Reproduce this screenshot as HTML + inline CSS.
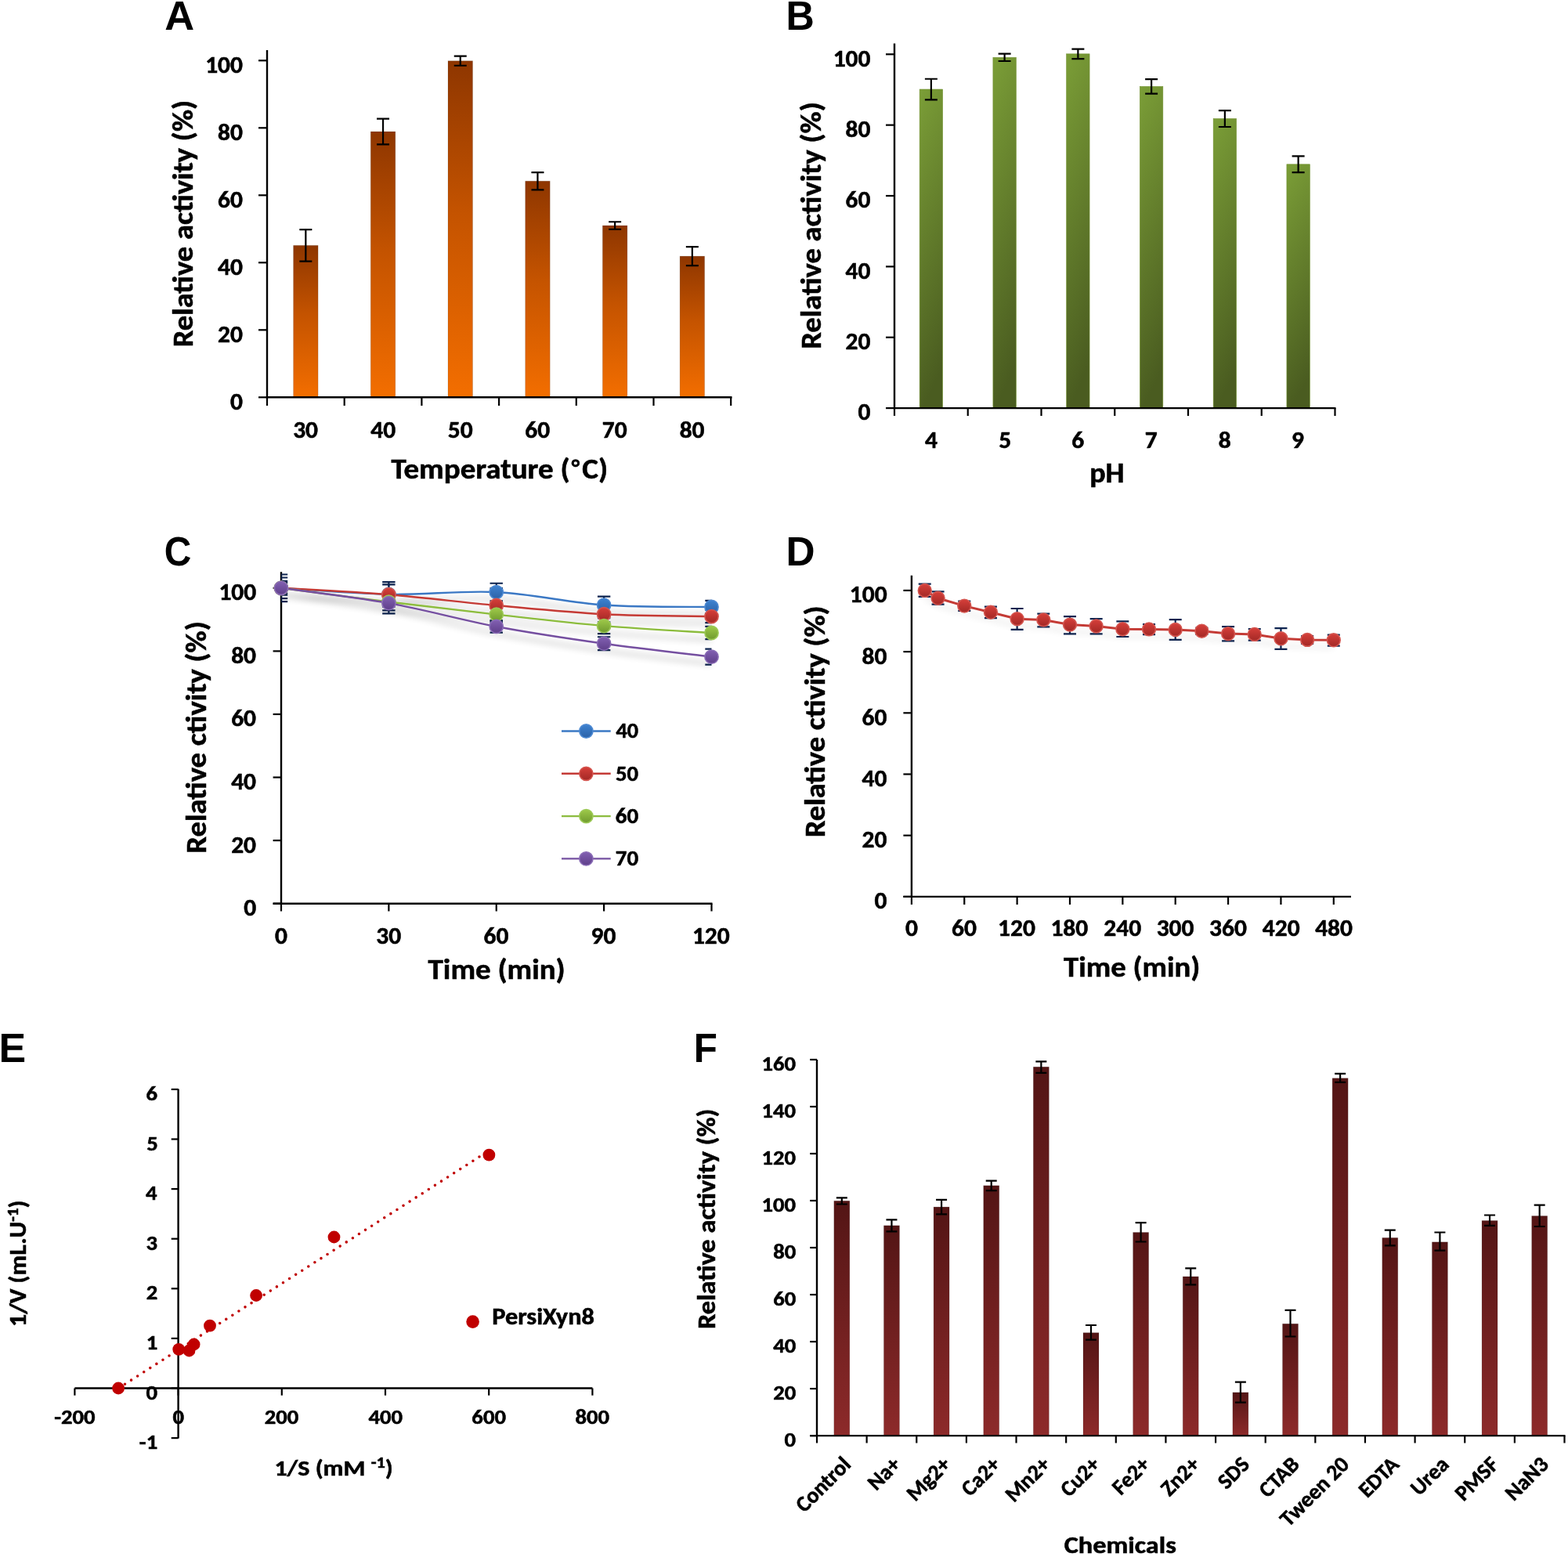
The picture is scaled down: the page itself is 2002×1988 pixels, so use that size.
<!DOCTYPE html>
<html><head><meta charset="utf-8"><title>Figure</title>
<style>html,body{margin:0;padding:0;background:#fff;} svg{display:block;}</style>
</head><body>
<svg width="2002" height="1988" viewBox="0 0 2002 1988">
<defs>
<linearGradient id="gA" x1="0" y1="0" x2="0" y2="1">
  <stop offset="0" stop-color="#8e3600"/><stop offset="0.45" stop-color="#c45300"/><stop offset="1" stop-color="#f36e00"/>
</linearGradient>
<linearGradient id="gB" x1="0" y1="0" x2="0.15" y2="1">
  <stop offset="0" stop-color="#7b9e37"/><stop offset="1" stop-color="#4a5c20"/>
</linearGradient>
<linearGradient id="gF" x1="0" y1="0" x2="0" y2="1">
  <stop offset="0" stop-color="#531515"/><stop offset="1" stop-color="#8d2a2a"/>
</linearGradient>
<linearGradient id="mBlue" x1="0" y1="0" x2="0" y2="1"><stop offset="0" stop-color="#3d82d0"/><stop offset="1" stop-color="#2b62a8"/></linearGradient>
<linearGradient id="mRed" x1="0" y1="0" x2="0" y2="1"><stop offset="0" stop-color="#d63f3a"/><stop offset="1" stop-color="#a32825"/></linearGradient>
<linearGradient id="mGreen" x1="0" y1="0" x2="0" y2="1"><stop offset="0" stop-color="#9fca4a"/><stop offset="1" stop-color="#6f9a2e"/></linearGradient>
<linearGradient id="mPurple" x1="0" y1="0" x2="0" y2="1"><stop offset="0" stop-color="#8260b2"/><stop offset="1" stop-color="#5f3f8a"/></linearGradient>
<clipPath id="clipC"><rect x="359" y="700" width="549.5" height="460"/></clipPath>
<filter id="shadowC" x="-5%" y="-50%" width="110%" height="250%">
  <feGaussianBlur in="SourceAlpha" stdDeviation="4.5"/>
  <feOffset dx="0" dy="9" result="b"/>
  <feComponentTransfer><feFuncA type="linear" slope="0.3"/></feComponentTransfer>
  <feMerge><feMergeNode/><feMergeNode in="SourceGraphic"/></feMerge>
</filter>
<filter id="shadowD" x="-5%" y="-50%" width="110%" height="300%">
  <feGaussianBlur in="SourceAlpha" stdDeviation="4"/>
  <feOffset dx="0" dy="9" result="b"/>
  <feComponentTransfer><feFuncA type="linear" slope="0.12"/></feComponentTransfer>
  <feMerge><feMergeNode/><feMergeNode in="SourceGraphic"/></feMerge>
</filter>
</defs>
<rect width="2002" height="1988" fill="#fff"/>
<text transform="translate(210.17,38.3) scale(1.0190,1)" font-size="51.5" font-family='"Liberation Sans", Arial, sans-serif' font-weight="bold" >A</text>
<rect x="374.6" y="313.37" width="31.5" height="193.93" fill="url(#gA)" stroke="#000" stroke-opacity="0.13" stroke-width="1"/>
<rect x="473.3" y="168.03" width="31.5" height="339.27" fill="url(#gA)" stroke="#000" stroke-opacity="0.13" stroke-width="1"/>
<rect x="572" y="77.73" width="31.5" height="429.57" fill="url(#gA)" stroke="#000" stroke-opacity="0.13" stroke-width="1"/>
<rect x="670.7" y="231.24" width="31.5" height="276.06" fill="url(#gA)" stroke="#000" stroke-opacity="0.13" stroke-width="1"/>
<rect x="769.4" y="288" width="31.5" height="219.3" fill="url(#gA)" stroke="#000" stroke-opacity="0.13" stroke-width="1"/>
<rect x="868.1" y="327.13" width="31.5" height="180.17" fill="url(#gA)" stroke="#000" stroke-opacity="0.13" stroke-width="1"/>
<path d="M390.35,293.16V333.58M382.35,293.16H398.35M382.35,333.58H398.35" stroke="#000" stroke-width="2.2" fill="none"/>
<path d="M489.05,151.69V184.37M481.05,151.69H497.05M481.05,184.37H497.05" stroke="#000" stroke-width="2.2" fill="none"/>
<path d="M587.75,71.71V83.75M579.75,71.71H595.75M579.75,83.75H595.75" stroke="#000" stroke-width="2.2" fill="none"/>
<path d="M686.45,220.06V242.42M678.45,220.06H694.45M678.45,242.42H694.45" stroke="#000" stroke-width="2.2" fill="none"/>
<path d="M785.15,283.27V292.73M777.15,283.27H793.15M777.15,292.73H793.15" stroke="#000" stroke-width="2.2" fill="none"/>
<path d="M883.85,315.09V339.17M875.85,315.09H891.85M875.85,339.17H891.85" stroke="#000" stroke-width="2.2" fill="none"/>
<line x1="341" y1="64" x2="341" y2="508.3" stroke="#000" stroke-width="2.4" />
<line x1="339.8" y1="507.3" x2="934.5" y2="507.3" stroke="#000" stroke-width="2.4" />
<line x1="330" y1="507.3" x2="341" y2="507.3" stroke="#000" stroke-width="2.2" />
<text transform="translate(293.99,523.3) scale(1.0340,1)" font-size="30.4" font-family='"Carlito", "Liberation Sans", sans-serif' font-weight="bold" stroke="#000" stroke-width="0.55" >0</text>
<line x1="330" y1="421.3" x2="341" y2="421.3" stroke="#000" stroke-width="2.2" />
<text transform="translate(277.96,437.3) scale(1.0340,1)" font-size="30.4" font-family='"Carlito", "Liberation Sans", sans-serif' font-weight="bold" stroke="#000" stroke-width="0.55" >20</text>
<line x1="330" y1="335.3" x2="341" y2="335.3" stroke="#000" stroke-width="2.2" />
<text transform="translate(277.96,351.3) scale(1.0340,1)" font-size="30.4" font-family='"Carlito", "Liberation Sans", sans-serif' font-weight="bold" stroke="#000" stroke-width="0.55" >40</text>
<line x1="330" y1="249.3" x2="341" y2="249.3" stroke="#000" stroke-width="2.2" />
<text transform="translate(277.96,265.3) scale(1.0340,1)" font-size="30.4" font-family='"Carlito", "Liberation Sans", sans-serif' font-weight="bold" stroke="#000" stroke-width="0.55" >60</text>
<line x1="330" y1="163.3" x2="341" y2="163.3" stroke="#000" stroke-width="2.2" />
<text transform="translate(277.96,179.3) scale(1.0340,1)" font-size="30.4" font-family='"Carlito", "Liberation Sans", sans-serif' font-weight="bold" stroke="#000" stroke-width="0.55" >80</text>
<line x1="330" y1="77.3" x2="341" y2="77.3" stroke="#000" stroke-width="2.2" />
<text transform="translate(262.19,93.3) scale(1.0340,1)" font-size="30.4" font-family='"Carlito", "Liberation Sans", sans-serif' font-weight="bold" stroke="#000" stroke-width="0.55" >100</text>
<line x1="341" y1="507.3" x2="341" y2="518" stroke="#000" stroke-width="2.2" />
<line x1="439.7" y1="507.3" x2="439.7" y2="518" stroke="#000" stroke-width="2.2" />
<line x1="538.4" y1="507.3" x2="538.4" y2="518" stroke="#000" stroke-width="2.2" />
<line x1="637.1" y1="507.3" x2="637.1" y2="518" stroke="#000" stroke-width="2.2" />
<line x1="735.8" y1="507.3" x2="735.8" y2="518" stroke="#000" stroke-width="2.2" />
<line x1="834.5" y1="507.3" x2="834.5" y2="518" stroke="#000" stroke-width="2.2" />
<line x1="933.2" y1="507.3" x2="933.2" y2="518" stroke="#000" stroke-width="2.2" />
<text transform="translate(374.19,559) scale(1.0340,1)" font-size="30.4" font-family='"Carlito", "Liberation Sans", sans-serif' font-weight="bold" stroke="#000" stroke-width="0.55" >30</text>
<text transform="translate(473.28,559) scale(1.0340,1)" font-size="30.4" font-family='"Carlito", "Liberation Sans", sans-serif' font-weight="bold" stroke="#000" stroke-width="0.55" >40</text>
<text transform="translate(571.72,559) scale(1.0340,1)" font-size="30.4" font-family='"Carlito", "Liberation Sans", sans-serif' font-weight="bold" stroke="#000" stroke-width="0.55" >50</text>
<text transform="translate(670.29,559) scale(1.0340,1)" font-size="30.4" font-family='"Carlito", "Liberation Sans", sans-serif' font-weight="bold" stroke="#000" stroke-width="0.55" >60</text>
<text transform="translate(768.86,559) scale(1.0340,1)" font-size="30.4" font-family='"Carlito", "Liberation Sans", sans-serif' font-weight="bold" stroke="#000" stroke-width="0.55" >70</text>
<text transform="translate(867.69,559) scale(1.0340,1)" font-size="30.4" font-family='"Carlito", "Liberation Sans", sans-serif' font-weight="bold" stroke="#000" stroke-width="0.55" >80</text>
<text transform="translate(499.5,610.8) scale(1.0740,1)" font-size="36.3" font-family='"Carlito", "Liberation Sans", sans-serif' font-weight="bold" stroke="#000" stroke-width="0.55" >Temperature (<tspan font-size="28" dx="2" dy="-4.6">°</tspan><tspan dx="3" dy="4.6">C)</tspan></text>
<text transform="translate(246.1,443.37) rotate(-90) scale(1.0659,1)" font-size="36.2" font-family='"Carlito", "Liberation Sans", sans-serif' font-weight="bold" stroke="#000" stroke-width="0.55" >Relative activity (%)</text>
<text transform="translate(1003.58,38.3) scale(0.9760,1)" font-size="51.5" font-family='"Liberation Sans", Arial, sans-serif' font-weight="bold" >B</text>
<rect x="1174.17" y="114.03" width="29.4" height="407.07" fill="url(#gB)" stroke="#6f8f2c" stroke-width="0.6"/>
<rect x="1267.92" y="73.37" width="29.4" height="447.73" fill="url(#gB)" stroke="#6f8f2c" stroke-width="0.6"/>
<rect x="1361.67" y="68.85" width="29.4" height="452.25" fill="url(#gB)" stroke="#6f8f2c" stroke-width="0.6"/>
<rect x="1455.42" y="110.41" width="29.4" height="410.69" fill="url(#gB)" stroke="#6f8f2c" stroke-width="0.6"/>
<rect x="1549.17" y="151.53" width="29.4" height="369.57" fill="url(#gB)" stroke="#6f8f2c" stroke-width="0.6"/>
<rect x="1642.92" y="209.81" width="29.4" height="311.29" fill="url(#gB)" stroke="#6f8f2c" stroke-width="0.6"/>
<path d="M1188.88,100.75V127.31M1180.88,100.75H1196.88M1180.88,127.31H1196.88" stroke="#000" stroke-width="2.2" fill="none"/>
<path d="M1282.62,68.71V78.02M1274.62,68.71H1290.62M1274.62,78.02H1290.62" stroke="#000" stroke-width="2.2" fill="none"/>
<path d="M1376.38,62.66V75.04M1368.38,62.66H1384.38M1368.38,75.04H1384.38" stroke="#000" stroke-width="2.2" fill="none"/>
<path d="M1470.12,101.2V119.63M1462.12,101.2H1478.12M1462.12,119.63H1478.12" stroke="#000" stroke-width="2.2" fill="none"/>
<path d="M1563.88,141.05V162.01M1555.88,141.05H1571.88M1555.88,162.01H1571.88" stroke="#000" stroke-width="2.2" fill="none"/>
<path d="M1657.62,199.46V220.16M1649.62,199.46H1665.62M1649.62,220.16H1665.62" stroke="#000" stroke-width="2.2" fill="none"/>
<line x1="1142" y1="55.5" x2="1142" y2="522.1" stroke="#000" stroke-width="2.4" />
<line x1="1140.8" y1="521.1" x2="1705.5" y2="521.1" stroke="#000" stroke-width="2.4" />
<line x1="1131" y1="521.1" x2="1142" y2="521.1" stroke="#000" stroke-width="2.2" />
<text transform="translate(1095.49,536.3) scale(1.0340,1)" font-size="30.4" font-family='"Carlito", "Liberation Sans", sans-serif' font-weight="bold" stroke="#000" stroke-width="0.55" >0</text>
<line x1="1131" y1="430.74" x2="1142" y2="430.74" stroke="#000" stroke-width="2.2" />
<text transform="translate(1079.46,445.94) scale(1.0340,1)" font-size="30.4" font-family='"Carlito", "Liberation Sans", sans-serif' font-weight="bold" stroke="#000" stroke-width="0.55" >20</text>
<line x1="1131" y1="340.38" x2="1142" y2="340.38" stroke="#000" stroke-width="2.2" />
<text transform="translate(1079.46,355.58) scale(1.0340,1)" font-size="30.4" font-family='"Carlito", "Liberation Sans", sans-serif' font-weight="bold" stroke="#000" stroke-width="0.55" >40</text>
<line x1="1131" y1="250.02" x2="1142" y2="250.02" stroke="#000" stroke-width="2.2" />
<text transform="translate(1079.46,265.22) scale(1.0340,1)" font-size="30.4" font-family='"Carlito", "Liberation Sans", sans-serif' font-weight="bold" stroke="#000" stroke-width="0.55" >60</text>
<line x1="1131" y1="159.66" x2="1142" y2="159.66" stroke="#000" stroke-width="2.2" />
<text transform="translate(1079.46,174.86) scale(1.0340,1)" font-size="30.4" font-family='"Carlito", "Liberation Sans", sans-serif' font-weight="bold" stroke="#000" stroke-width="0.55" >80</text>
<line x1="1131" y1="69.3" x2="1142" y2="69.3" stroke="#000" stroke-width="2.2" />
<text transform="translate(1063.69,84.5) scale(1.0340,1)" font-size="30.4" font-family='"Carlito", "Liberation Sans", sans-serif' font-weight="bold" stroke="#000" stroke-width="0.55" >100</text>
<line x1="1142" y1="521.1" x2="1142" y2="531" stroke="#000" stroke-width="2.2" />
<line x1="1235.75" y1="521.1" x2="1235.75" y2="531" stroke="#000" stroke-width="2.2" />
<line x1="1329.5" y1="521.1" x2="1329.5" y2="531" stroke="#000" stroke-width="2.2" />
<line x1="1423.25" y1="521.1" x2="1423.25" y2="531" stroke="#000" stroke-width="2.2" />
<line x1="1517" y1="521.1" x2="1517" y2="531" stroke="#000" stroke-width="2.2" />
<line x1="1610.75" y1="521.1" x2="1610.75" y2="531" stroke="#000" stroke-width="2.2" />
<line x1="1704.5" y1="521.1" x2="1704.5" y2="531" stroke="#000" stroke-width="2.2" />
<text transform="translate(1180.99,571.5) scale(1.0340,1)" font-size="30.4" font-family='"Carlito", "Liberation Sans", sans-serif' font-weight="bold" stroke="#000" stroke-width="0.55" >4</text>
<text transform="translate(1275.13,571.5) scale(1.0340,1)" font-size="30.4" font-family='"Carlito", "Liberation Sans", sans-serif' font-weight="bold" stroke="#000" stroke-width="0.55" >5</text>
<text transform="translate(1368.23,571.5) scale(1.0340,1)" font-size="30.4" font-family='"Carlito", "Liberation Sans", sans-serif' font-weight="bold" stroke="#000" stroke-width="0.55" >6</text>
<text transform="translate(1461.85,571.5) scale(1.0340,1)" font-size="30.4" font-family='"Carlito", "Liberation Sans", sans-serif' font-weight="bold" stroke="#000" stroke-width="0.55" >7</text>
<text transform="translate(1555.86,571.5) scale(1.0340,1)" font-size="30.4" font-family='"Carlito", "Liberation Sans", sans-serif' font-weight="bold" stroke="#000" stroke-width="0.55" >8</text>
<text transform="translate(1649.09,571.5) scale(1.0340,1)" font-size="30.4" font-family='"Carlito", "Liberation Sans", sans-serif' font-weight="bold" stroke="#000" stroke-width="0.55" >9</text>
<text transform="translate(1391.14,616.2) scale(1.0318,1)" font-size="36.8" font-family='"Carlito", "Liberation Sans", sans-serif' font-weight="bold" stroke="#000" stroke-width="0.55" >pH</text>
<text transform="translate(1047.5,445.85) rotate(-90) scale(1.0548,1)" font-size="36.6" font-family='"Carlito", "Liberation Sans", sans-serif' font-weight="bold" stroke="#000" stroke-width="0.55" >Relative activity (%)</text>
<text transform="translate(209.64,721.5) scale(0.9304,1)" font-size="51.5" font-family='"Liberation Sans", Arial, sans-serif' font-weight="bold" >C</text>
<line x1="359" y1="730.2" x2="359" y2="1154.7" stroke="#000" stroke-width="2.4" />
<line x1="348.6" y1="1153.7" x2="909.5" y2="1153.7" stroke="#000" stroke-width="2.4" />
<line x1="348.6" y1="1153.7" x2="359" y2="1153.7" stroke="#000" stroke-width="2.2" />
<text transform="translate(311.19,1169.2) scale(1.0340,1)" font-size="30.4" font-family='"Carlito", "Liberation Sans", sans-serif' font-weight="bold" stroke="#000" stroke-width="0.55" >0</text>
<line x1="348.6" y1="1073.12" x2="359" y2="1073.12" stroke="#000" stroke-width="2.2" />
<text transform="translate(295.16,1088.62) scale(1.0340,1)" font-size="30.4" font-family='"Carlito", "Liberation Sans", sans-serif' font-weight="bold" stroke="#000" stroke-width="0.55" >20</text>
<line x1="348.6" y1="992.54" x2="359" y2="992.54" stroke="#000" stroke-width="2.2" />
<text transform="translate(295.16,1008.04) scale(1.0340,1)" font-size="30.4" font-family='"Carlito", "Liberation Sans", sans-serif' font-weight="bold" stroke="#000" stroke-width="0.55" >40</text>
<line x1="348.6" y1="911.96" x2="359" y2="911.96" stroke="#000" stroke-width="2.2" />
<text transform="translate(295.16,927.46) scale(1.0340,1)" font-size="30.4" font-family='"Carlito", "Liberation Sans", sans-serif' font-weight="bold" stroke="#000" stroke-width="0.55" >60</text>
<line x1="348.6" y1="831.38" x2="359" y2="831.38" stroke="#000" stroke-width="2.2" />
<text transform="translate(295.16,846.88) scale(1.0340,1)" font-size="30.4" font-family='"Carlito", "Liberation Sans", sans-serif' font-weight="bold" stroke="#000" stroke-width="0.55" >80</text>
<line x1="348.6" y1="750.8" x2="359" y2="750.8" stroke="#000" stroke-width="2.2" />
<text transform="translate(279.39,766.3) scale(1.0340,1)" font-size="30.4" font-family='"Carlito", "Liberation Sans", sans-serif' font-weight="bold" stroke="#000" stroke-width="0.55" >100</text>
<line x1="359" y1="1153.7" x2="359" y2="1163.5" stroke="#000" stroke-width="2.2" />
<text transform="translate(351.12,1204.5) scale(1.0340,1)" font-size="30.4" font-family='"Carlito", "Liberation Sans", sans-serif' font-weight="bold" stroke="#000" stroke-width="0.55" >0</text>
<line x1="496.38" y1="1153.7" x2="496.38" y2="1163.5" stroke="#000" stroke-width="2.2" />
<text transform="translate(480.22,1204.5) scale(1.0340,1)" font-size="30.4" font-family='"Carlito", "Liberation Sans", sans-serif' font-weight="bold" stroke="#000" stroke-width="0.55" >30</text>
<line x1="633.75" y1="1153.7" x2="633.75" y2="1163.5" stroke="#000" stroke-width="2.2" />
<text transform="translate(617.59,1204.5) scale(1.0340,1)" font-size="30.4" font-family='"Carlito", "Liberation Sans", sans-serif' font-weight="bold" stroke="#000" stroke-width="0.55" >60</text>
<line x1="771.12" y1="1153.7" x2="771.12" y2="1163.5" stroke="#000" stroke-width="2.2" />
<text transform="translate(754.58,1204.5) scale(1.0340,1)" font-size="30.4" font-family='"Carlito", "Liberation Sans", sans-serif' font-weight="bold" stroke="#000" stroke-width="0.55" >90</text>
<line x1="908.5" y1="1153.7" x2="908.5" y2="1163.5" stroke="#000" stroke-width="2.2" />
<text transform="translate(883.94,1204.5) scale(1.0340,1)" font-size="30.4" font-family='"Carlito", "Liberation Sans", sans-serif' font-weight="bold" stroke="#000" stroke-width="0.55" >120</text>
<text transform="translate(546.6,1249.7) scale(1.0802,1)" font-size="36" font-family='"Carlito", "Liberation Sans", sans-serif' font-weight="bold" stroke="#000" stroke-width="0.55" >Time (min)</text>
<text transform="translate(263.2,1089.66) rotate(-90) scale(1.0601,1)" font-size="36.4" font-family='"Carlito", "Liberation Sans", sans-serif' font-weight="bold" stroke="#000" stroke-width="0.55" >Relative ctivity (%)</text>
<path d="M359,733.48V768.12M350.8,733.48H367.2M350.8,768.12H367.2" stroke="#0e2450" stroke-width="2.2" fill="none" clip-path="url(#clipC)"/>
<path d="M496.38,743.14V774.57M488.18,743.14H504.57M488.18,774.57H504.57" stroke="#0e2450" stroke-width="2.2" fill="none" clip-path="url(#clipC)"/>
<path d="M633.75,744.76V767.32M625.55,744.76H641.95M625.55,767.32H641.95" stroke="#0e2450" stroke-width="2.2" fill="none" clip-path="url(#clipC)"/>
<path d="M771.12,761.68V783.43M762.92,761.68H779.33M762.92,783.43H779.33" stroke="#0e2450" stroke-width="2.2" fill="none" clip-path="url(#clipC)"/>
<path d="M908.5,766.92V783.03M900.3,766.92H916.7M900.3,783.03H916.7" stroke="#0e2450" stroke-width="2.2" fill="none" clip-path="url(#clipC)"/>
<path d="M359,737.5V764.1M350.8,737.5H367.2M350.8,764.1H367.2" stroke="#0e2450" stroke-width="2.2" fill="none" clip-path="url(#clipC)"/>
<path d="M496.38,746.37V772.15M488.18,746.37H504.57M488.18,772.15H504.57" stroke="#0e2450" stroke-width="2.2" fill="none" clip-path="url(#clipC)"/>
<path d="M633.75,751.2V794.72M625.55,751.2H641.95M625.55,794.72H641.95" stroke="#0e2450" stroke-width="2.2" fill="none" clip-path="url(#clipC)"/>
<path d="M771.12,774.17V794.31M762.92,774.17H779.33M762.92,794.31H779.33" stroke="#0e2450" stroke-width="2.2" fill="none" clip-path="url(#clipC)"/>
<path d="M908.5,779V795.12M900.3,779H916.7M900.3,795.12H916.7" stroke="#0e2450" stroke-width="2.2" fill="none" clip-path="url(#clipC)"/>
<path d="M359,741.94V759.66M350.8,741.94H367.2M350.8,759.66H367.2" stroke="#0e2450" stroke-width="2.2" fill="none" clip-path="url(#clipC)"/>
<path d="M496.38,757.65V779.41M488.18,757.65H504.57M488.18,779.41H504.57" stroke="#0e2450" stroke-width="2.2" fill="none" clip-path="url(#clipC)"/>
<path d="M633.75,776.59V792.7M625.55,776.59H641.95M625.55,792.7H641.95" stroke="#0e2450" stroke-width="2.2" fill="none" clip-path="url(#clipC)"/>
<path d="M771.12,789.08V809.22M762.92,789.08H779.33M762.92,809.22H779.33" stroke="#0e2450" stroke-width="2.2" fill="none" clip-path="url(#clipC)"/>
<path d="M908.5,799.95V816.07M900.3,799.95H916.7M900.3,816.07H916.7" stroke="#0e2450" stroke-width="2.2" fill="none" clip-path="url(#clipC)"/>
<path d="M359,743.95V757.65M350.8,743.95H367.2M350.8,757.65H367.2" stroke="#0e2450" stroke-width="2.2" fill="none" clip-path="url(#clipC)"/>
<path d="M496.38,756.84V783.43M488.18,756.84H504.57M488.18,783.43H504.57" stroke="#0e2450" stroke-width="2.2" fill="none" clip-path="url(#clipC)"/>
<path d="M633.75,792.3V807.61M625.55,792.3H641.95M625.55,807.61H641.95" stroke="#0e2450" stroke-width="2.2" fill="none" clip-path="url(#clipC)"/>
<path d="M771.12,813.25V830.17M762.92,813.25H779.33M762.92,830.17H779.33" stroke="#0e2450" stroke-width="2.2" fill="none" clip-path="url(#clipC)"/>
<path d="M908.5,828.56V848.7M900.3,828.56H916.7M900.3,848.7H916.7" stroke="#0e2450" stroke-width="2.2" fill="none" clip-path="url(#clipC)"/>
<g filter="url(#shadowC)">
<path d="M359,750.8C381.9,752.14 450.58,757.99 496.38,758.86C542.17,759.73 587.96,753.75 633.75,756.04C679.54,758.32 725.33,769.4 771.12,772.56C816.92,775.71 885.6,774.57 908.5,774.97" fill="none" stroke="#3a78c4" stroke-width="2.4"/>
<path d="M359,750.8C381.9,752.21 450.58,755.57 496.38,759.26C542.17,762.95 587.96,768.8 633.75,772.96C679.54,777.12 725.33,781.89 771.12,784.24C816.92,786.59 885.6,786.59 908.5,787.06" fill="none" stroke="#c43a36" stroke-width="2.4"/>
<path d="M359,750.8C381.9,753.75 450.58,762.89 496.38,768.53C542.17,774.17 587.96,779.54 633.75,784.64C679.54,789.75 725.33,795.25 771.12,799.15C816.92,803.04 885.6,806.53 908.5,808.01" fill="none" stroke="#8cbc3e" stroke-width="2.4"/>
<path d="M359,750.8C381.9,754.02 450.58,761.95 496.38,770.14C542.17,778.33 587.96,791.36 633.75,799.95C679.54,808.55 725.33,815.26 771.12,821.71C816.92,828.16 885.6,835.81 908.5,838.63" fill="none" stroke="#7550a0" stroke-width="2.4"/>
</g>
<circle cx="359" cy="750.8" r="8.6" fill="url(#mBlue)" stroke="#4d89d2" stroke-width="1.6"/>
<circle cx="496.38" cy="758.86" r="8.6" fill="url(#mBlue)" stroke="#4d89d2" stroke-width="1.6"/>
<circle cx="633.75" cy="756.04" r="8.6" fill="url(#mBlue)" stroke="#4d89d2" stroke-width="1.6"/>
<circle cx="771.12" cy="772.56" r="8.6" fill="url(#mBlue)" stroke="#4d89d2" stroke-width="1.6"/>
<circle cx="908.5" cy="774.97" r="8.6" fill="url(#mBlue)" stroke="#4d89d2" stroke-width="1.6"/>
<circle cx="359" cy="750.8" r="8.6" fill="url(#mRed)" stroke="#d4554f" stroke-width="1.6"/>
<circle cx="496.38" cy="759.26" r="8.6" fill="url(#mRed)" stroke="#d4554f" stroke-width="1.6"/>
<circle cx="633.75" cy="772.96" r="8.6" fill="url(#mRed)" stroke="#d4554f" stroke-width="1.6"/>
<circle cx="771.12" cy="784.24" r="8.6" fill="url(#mRed)" stroke="#d4554f" stroke-width="1.6"/>
<circle cx="908.5" cy="787.06" r="8.6" fill="url(#mRed)" stroke="#d4554f" stroke-width="1.6"/>
<circle cx="359" cy="750.8" r="8.6" fill="url(#mGreen)" stroke="#9cc956" stroke-width="1.6"/>
<circle cx="496.38" cy="768.53" r="8.6" fill="url(#mGreen)" stroke="#9cc956" stroke-width="1.6"/>
<circle cx="633.75" cy="784.64" r="8.6" fill="url(#mGreen)" stroke="#9cc956" stroke-width="1.6"/>
<circle cx="771.12" cy="799.15" r="8.6" fill="url(#mGreen)" stroke="#9cc956" stroke-width="1.6"/>
<circle cx="908.5" cy="808.01" r="8.6" fill="url(#mGreen)" stroke="#9cc956" stroke-width="1.6"/>
<circle cx="359" cy="750.8" r="8.6" fill="url(#mPurple)" stroke="#8a6cb6" stroke-width="1.6"/>
<circle cx="496.38" cy="770.14" r="8.6" fill="url(#mPurple)" stroke="#8a6cb6" stroke-width="1.6"/>
<circle cx="633.75" cy="799.95" r="8.6" fill="url(#mPurple)" stroke="#8a6cb6" stroke-width="1.6"/>
<circle cx="771.12" cy="821.71" r="8.6" fill="url(#mPurple)" stroke="#8a6cb6" stroke-width="1.6"/>
<circle cx="908.5" cy="838.63" r="8.6" fill="url(#mPurple)" stroke="#8a6cb6" stroke-width="1.6"/>
<line x1="717" y1="933.5" x2="779.7" y2="933.5" stroke="#3a78c4" stroke-width="2.4" />
<circle cx="748.4" cy="933.5" r="8.6" fill="url(#mBlue)" stroke="#4d89d2" stroke-width="1.6"/>
<text transform="translate(786.6,942.2) scale(1.0312,1)" font-size="27.3" font-family='"Carlito", "Liberation Sans", sans-serif' font-weight="bold" stroke="#000" stroke-width="0.55" >40</text>
<line x1="717" y1="987.8" x2="779.7" y2="987.8" stroke="#c43a36" stroke-width="2.4" />
<circle cx="748.4" cy="987.8" r="8.6" fill="url(#mRed)" stroke="#d4554f" stroke-width="1.6"/>
<text transform="translate(786.07,996.5) scale(1.0505,1)" font-size="27.3" font-family='"Carlito", "Liberation Sans", sans-serif' font-weight="bold" stroke="#000" stroke-width="0.55" >50</text>
<line x1="717" y1="1042.1" x2="779.7" y2="1042.1" stroke="#8cbc3e" stroke-width="2.4" />
<circle cx="748.4" cy="1042.1" r="8.6" fill="url(#mGreen)" stroke="#9cc956" stroke-width="1.6"/>
<text transform="translate(785.8,1050.8) scale(1.0604,1)" font-size="27.3" font-family='"Carlito", "Liberation Sans", sans-serif' font-weight="bold" stroke="#000" stroke-width="0.55" >60</text>
<line x1="717" y1="1096.4" x2="779.7" y2="1096.4" stroke="#7550a0" stroke-width="2.4" />
<circle cx="748.4" cy="1096.4" r="8.6" fill="url(#mPurple)" stroke="#8a6cb6" stroke-width="1.6"/>
<text transform="translate(785.8,1105.1) scale(1.0604,1)" font-size="27.3" font-family='"Carlito", "Liberation Sans", sans-serif' font-weight="bold" stroke="#000" stroke-width="0.55" >70</text>
<text transform="translate(1003.41,721.5) scale(0.9968,1)" font-size="51.5" font-family='"Liberation Sans", Arial, sans-serif' font-weight="bold" >D</text>
<line x1="1163.9" y1="734.7" x2="1163.9" y2="1145.9" stroke="#000" stroke-width="2.4" />
<line x1="1153.4" y1="1144.9" x2="1725" y2="1144.9" stroke="#000" stroke-width="2.4" />
<line x1="1153.4" y1="1144.9" x2="1163.9" y2="1144.9" stroke="#000" stroke-width="2.2" />
<text transform="translate(1116.59,1160.4) scale(1.0340,1)" font-size="30.4" font-family='"Carlito", "Liberation Sans", sans-serif' font-weight="bold" stroke="#000" stroke-width="0.55" >0</text>
<line x1="1153.4" y1="1066.7" x2="1163.9" y2="1066.7" stroke="#000" stroke-width="2.2" />
<text transform="translate(1100.56,1082.2) scale(1.0340,1)" font-size="30.4" font-family='"Carlito", "Liberation Sans", sans-serif' font-weight="bold" stroke="#000" stroke-width="0.55" >20</text>
<line x1="1153.4" y1="988.5" x2="1163.9" y2="988.5" stroke="#000" stroke-width="2.2" />
<text transform="translate(1100.56,1004) scale(1.0340,1)" font-size="30.4" font-family='"Carlito", "Liberation Sans", sans-serif' font-weight="bold" stroke="#000" stroke-width="0.55" >40</text>
<line x1="1153.4" y1="910.3" x2="1163.9" y2="910.3" stroke="#000" stroke-width="2.2" />
<text transform="translate(1100.56,925.8) scale(1.0340,1)" font-size="30.4" font-family='"Carlito", "Liberation Sans", sans-serif' font-weight="bold" stroke="#000" stroke-width="0.55" >60</text>
<line x1="1153.4" y1="832.1" x2="1163.9" y2="832.1" stroke="#000" stroke-width="2.2" />
<text transform="translate(1100.56,847.6) scale(1.0340,1)" font-size="30.4" font-family='"Carlito", "Liberation Sans", sans-serif' font-weight="bold" stroke="#000" stroke-width="0.55" >80</text>
<line x1="1153.4" y1="753.9" x2="1163.9" y2="753.9" stroke="#000" stroke-width="2.2" />
<text transform="translate(1084.79,769.4) scale(1.0340,1)" font-size="30.4" font-family='"Carlito", "Liberation Sans", sans-serif' font-weight="bold" stroke="#000" stroke-width="0.55" >100</text>
<line x1="1163.9" y1="1144.9" x2="1163.9" y2="1155" stroke="#000" stroke-width="2.2" />
<text transform="translate(1156.02,1195.3) scale(1.0340,1)" font-size="30.4" font-family='"Carlito", "Liberation Sans", sans-serif' font-weight="bold" stroke="#000" stroke-width="0.55" >0</text>
<line x1="1231.26" y1="1144.9" x2="1231.26" y2="1155" stroke="#000" stroke-width="2.2" />
<text transform="translate(1215.11,1195.3) scale(1.0340,1)" font-size="30.4" font-family='"Carlito", "Liberation Sans", sans-serif' font-weight="bold" stroke="#000" stroke-width="0.55" >60</text>
<line x1="1298.62" y1="1144.9" x2="1298.62" y2="1155" stroke="#000" stroke-width="2.2" />
<text transform="translate(1274.07,1195.3) scale(1.0340,1)" font-size="30.4" font-family='"Carlito", "Liberation Sans", sans-serif' font-weight="bold" stroke="#000" stroke-width="0.55" >120</text>
<line x1="1365.99" y1="1144.9" x2="1365.99" y2="1155" stroke="#000" stroke-width="2.2" />
<text transform="translate(1341.43,1195.3) scale(1.0340,1)" font-size="30.4" font-family='"Carlito", "Liberation Sans", sans-serif' font-weight="bold" stroke="#000" stroke-width="0.55" >180</text>
<line x1="1433.35" y1="1144.9" x2="1433.35" y2="1155" stroke="#000" stroke-width="2.2" />
<text transform="translate(1409.31,1195.3) scale(1.0340,1)" font-size="30.4" font-family='"Carlito", "Liberation Sans", sans-serif' font-weight="bold" stroke="#000" stroke-width="0.55" >240</text>
<line x1="1500.71" y1="1144.9" x2="1500.71" y2="1155" stroke="#000" stroke-width="2.2" />
<text transform="translate(1476.67,1195.3) scale(1.0340,1)" font-size="30.4" font-family='"Carlito", "Liberation Sans", sans-serif' font-weight="bold" stroke="#000" stroke-width="0.55" >300</text>
<line x1="1568.08" y1="1144.9" x2="1568.08" y2="1155" stroke="#000" stroke-width="2.2" />
<text transform="translate(1544.03,1195.3) scale(1.0340,1)" font-size="30.4" font-family='"Carlito", "Liberation Sans", sans-serif' font-weight="bold" stroke="#000" stroke-width="0.55" >360</text>
<line x1="1635.44" y1="1144.9" x2="1635.44" y2="1155" stroke="#000" stroke-width="2.2" />
<text transform="translate(1611.78,1195.3) scale(1.0340,1)" font-size="30.4" font-family='"Carlito", "Liberation Sans", sans-serif' font-weight="bold" stroke="#000" stroke-width="0.55" >420</text>
<line x1="1702.8" y1="1144.9" x2="1702.8" y2="1155" stroke="#000" stroke-width="2.2" />
<text transform="translate(1679.15,1195.3) scale(1.0340,1)" font-size="30.4" font-family='"Carlito", "Liberation Sans", sans-serif' font-weight="bold" stroke="#000" stroke-width="0.55" >480</text>
<text transform="translate(1358.1,1246.7) scale(1.0752,1)" font-size="36" font-family='"Carlito", "Liberation Sans", sans-serif' font-weight="bold" stroke="#000" stroke-width="0.55" >Time (min)</text>
<text transform="translate(1052.7,1069.36) rotate(-90) scale(1.0648,1)" font-size="36.2" font-family='"Carlito", "Liberation Sans", sans-serif' font-weight="bold" stroke="#000" stroke-width="0.55" >Relative ctivity (%)</text>
<path d="M1180.74,745.6V761.9M1172.74,745.6H1188.74M1172.74,761.9H1188.74" stroke="#0e2450" stroke-width="2.2" fill="none"/>
<path d="M1197.58,755.4V771.7M1189.58,755.4H1205.58M1189.58,771.7H1205.58" stroke="#0e2450" stroke-width="2.2" fill="none"/>
<path d="M1231.26,767.7V779.8M1223.26,767.7H1239.26M1223.26,779.8H1239.26" stroke="#0e2450" stroke-width="2.2" fill="none"/>
<path d="M1264.94,774.7V789.1M1256.94,774.7H1272.94M1256.94,789.1H1272.94" stroke="#0e2450" stroke-width="2.2" fill="none"/>
<path d="M1298.62,777V803.9M1290.62,777H1306.62M1290.62,803.9H1306.62" stroke="#0e2450" stroke-width="2.2" fill="none"/>
<path d="M1332.31,783.7V800.4M1324.31,783.7H1340.31M1324.31,800.4H1340.31" stroke="#0e2450" stroke-width="2.2" fill="none"/>
<path d="M1365.99,787.1V809.4M1357.99,787.1H1373.99M1357.99,809.4H1373.99" stroke="#0e2450" stroke-width="2.2" fill="none"/>
<path d="M1399.67,790.2V809.4M1391.67,790.2H1407.67M1391.67,809.4H1407.67" stroke="#0e2450" stroke-width="2.2" fill="none"/>
<path d="M1433.35,793.3V813M1425.35,793.3H1441.35M1425.35,813H1441.35" stroke="#0e2450" stroke-width="2.2" fill="none"/>
<path d="M1467.03,797.1V810.2M1459.03,797.1H1475.03M1459.03,810.2H1475.03" stroke="#0e2450" stroke-width="2.2" fill="none"/>
<path d="M1500.71,791.2V816.9M1492.71,791.2H1508.71M1492.71,816.9H1508.71" stroke="#0e2450" stroke-width="2.2" fill="none"/>
<path d="M1534.39,801.5V809.9M1526.39,801.5H1542.39M1526.39,809.9H1542.39" stroke="#0e2450" stroke-width="2.2" fill="none"/>
<path d="M1568.08,800.1V818.4M1560.08,800.1H1576.08M1560.08,818.4H1576.08" stroke="#0e2450" stroke-width="2.2" fill="none"/>
<path d="M1601.76,803.2V817.6M1593.76,803.2H1609.76M1593.76,817.6H1609.76" stroke="#0e2450" stroke-width="2.2" fill="none"/>
<path d="M1635.44,802.1V828.8M1627.44,802.1H1643.44M1627.44,828.8H1643.44" stroke="#0e2450" stroke-width="2.2" fill="none"/>
<path d="M1669.12,812V821.8M1661.12,812H1677.12M1661.12,821.8H1677.12" stroke="#0e2450" stroke-width="2.2" fill="none"/>
<path d="M1702.8,810.7V824.6M1694.8,810.7H1710.8M1694.8,824.6H1710.8" stroke="#0e2450" stroke-width="2.2" fill="none"/>
<path d="M1180.74,753.9 L1197.58,763.8 L1231.26,773.6 L1264.94,781.8 L1298.62,790.2 L1332.31,791.4 L1365.99,797.6 L1399.67,799.5 L1433.35,803.2 L1467.03,803.4 L1500.71,804 L1534.39,805.7 L1568.08,809.1 L1601.76,809.9 L1635.44,815.3 L1669.12,816.9 L1702.8,817.3" fill="none" stroke="#c43a36" stroke-width="3" filter="url(#shadowD)"/>
<circle cx="1180.74" cy="753.9" r="8.4" fill="url(#mRed)" stroke="#d4554f" stroke-width="1.6"/>
<circle cx="1197.58" cy="763.8" r="8.4" fill="url(#mRed)" stroke="#d4554f" stroke-width="1.6"/>
<circle cx="1231.26" cy="773.6" r="8.4" fill="url(#mRed)" stroke="#d4554f" stroke-width="1.6"/>
<circle cx="1264.94" cy="781.8" r="8.4" fill="url(#mRed)" stroke="#d4554f" stroke-width="1.6"/>
<circle cx="1298.62" cy="790.2" r="8.4" fill="url(#mRed)" stroke="#d4554f" stroke-width="1.6"/>
<circle cx="1332.31" cy="791.4" r="8.4" fill="url(#mRed)" stroke="#d4554f" stroke-width="1.6"/>
<circle cx="1365.99" cy="797.6" r="8.4" fill="url(#mRed)" stroke="#d4554f" stroke-width="1.6"/>
<circle cx="1399.67" cy="799.5" r="8.4" fill="url(#mRed)" stroke="#d4554f" stroke-width="1.6"/>
<circle cx="1433.35" cy="803.2" r="8.4" fill="url(#mRed)" stroke="#d4554f" stroke-width="1.6"/>
<circle cx="1467.03" cy="803.4" r="8.4" fill="url(#mRed)" stroke="#d4554f" stroke-width="1.6"/>
<circle cx="1500.71" cy="804" r="8.4" fill="url(#mRed)" stroke="#d4554f" stroke-width="1.6"/>
<circle cx="1534.39" cy="805.7" r="8.4" fill="url(#mRed)" stroke="#d4554f" stroke-width="1.6"/>
<circle cx="1568.08" cy="809.1" r="8.4" fill="url(#mRed)" stroke="#d4554f" stroke-width="1.6"/>
<circle cx="1601.76" cy="809.9" r="8.4" fill="url(#mRed)" stroke="#d4554f" stroke-width="1.6"/>
<circle cx="1635.44" cy="815.3" r="8.4" fill="url(#mRed)" stroke="#d4554f" stroke-width="1.6"/>
<circle cx="1669.12" cy="816.9" r="8.4" fill="url(#mRed)" stroke="#d4554f" stroke-width="1.6"/>
<circle cx="1702.8" cy="817.3" r="8.4" fill="url(#mRed)" stroke="#d4554f" stroke-width="1.6"/>
<text transform="translate(-1.53,1355.9) scale(1.0087,1)" font-size="51.5" font-family='"Liberation Sans", Arial, sans-serif' font-weight="bold" >E</text>
<line x1="227.6" y1="1390.4" x2="227.6" y2="1836.6" stroke="#000" stroke-width="2.4" />
<line x1="95.4" y1="1772.5" x2="756.4" y2="1772.5" stroke="#000" stroke-width="2.4" />
<line x1="218.7" y1="1836.1" x2="227.6" y2="1836.1" stroke="#000" stroke-width="2.2" />
<text transform="translate(177.87,1850.2) scale(1.0650,1)" font-size="26.9" font-family='"Carlito", "Liberation Sans", sans-serif' font-weight="bold" stroke="#000" stroke-width="0.55" >-1</text>
<line x1="218.7" y1="1772.5" x2="227.6" y2="1772.5" stroke="#000" stroke-width="2.2" />
<text transform="translate(186.39,1786.6) scale(1.0650,1)" font-size="26.9" font-family='"Carlito", "Liberation Sans", sans-serif' font-weight="bold" stroke="#000" stroke-width="0.55" >0</text>
<line x1="218.7" y1="1708.9" x2="227.6" y2="1708.9" stroke="#000" stroke-width="2.2" />
<text transform="translate(186.66,1723) scale(1.0650,1)" font-size="26.9" font-family='"Carlito", "Liberation Sans", sans-serif' font-weight="bold" stroke="#000" stroke-width="0.55" >1</text>
<line x1="218.7" y1="1645.3" x2="227.6" y2="1645.3" stroke="#000" stroke-width="2.2" />
<text transform="translate(186.66,1659.4) scale(1.0650,1)" font-size="26.9" font-family='"Carlito", "Liberation Sans", sans-serif' font-weight="bold" stroke="#000" stroke-width="0.55" >2</text>
<line x1="218.7" y1="1581.7" x2="227.6" y2="1581.7" stroke="#000" stroke-width="2.2" />
<text transform="translate(186.39,1595.8) scale(1.0650,1)" font-size="26.9" font-family='"Carlito", "Liberation Sans", sans-serif' font-weight="bold" stroke="#000" stroke-width="0.55" >3</text>
<line x1="218.7" y1="1518.1" x2="227.6" y2="1518.1" stroke="#000" stroke-width="2.2" />
<text transform="translate(186.12,1532.2) scale(1.0650,1)" font-size="26.9" font-family='"Carlito", "Liberation Sans", sans-serif' font-weight="bold" stroke="#000" stroke-width="0.55" >4</text>
<line x1="218.7" y1="1454.5" x2="227.6" y2="1454.5" stroke="#000" stroke-width="2.2" />
<text transform="translate(187.19,1468.6) scale(1.0650,1)" font-size="26.9" font-family='"Carlito", "Liberation Sans", sans-serif' font-weight="bold" stroke="#000" stroke-width="0.55" >5</text>
<line x1="218.7" y1="1390.9" x2="227.6" y2="1390.9" stroke="#000" stroke-width="2.2" />
<text transform="translate(186.39,1405) scale(1.0650,1)" font-size="26.9" font-family='"Carlito", "Liberation Sans", sans-serif' font-weight="bold" stroke="#000" stroke-width="0.55" >6</text>
<line x1="95.4" y1="1772.5" x2="95.4" y2="1781.7" stroke="#000" stroke-width="2.2" />
<text transform="translate(69.17,1817.7) scale(1.0650,1)" font-size="26.9" font-family='"Carlito", "Liberation Sans", sans-serif' font-weight="bold" stroke="#000" stroke-width="0.55" >-200</text>
<line x1="227.6" y1="1772.5" x2="227.6" y2="1781.7" stroke="#000" stroke-width="2.2" />
<text transform="translate(220.41,1817.7) scale(1.0650,1)" font-size="26.9" font-family='"Carlito", "Liberation Sans", sans-serif' font-weight="bold" stroke="#000" stroke-width="0.55" >0</text>
<line x1="359.8" y1="1772.5" x2="359.8" y2="1781.7" stroke="#000" stroke-width="2.2" />
<text transform="translate(337.83,1817.7) scale(1.0650,1)" font-size="26.9" font-family='"Carlito", "Liberation Sans", sans-serif' font-weight="bold" stroke="#000" stroke-width="0.55" >200</text>
<line x1="492" y1="1772.5" x2="492" y2="1781.7" stroke="#000" stroke-width="2.2" />
<text transform="translate(470.43,1817.7) scale(1.0650,1)" font-size="26.9" font-family='"Carlito", "Liberation Sans", sans-serif' font-weight="bold" stroke="#000" stroke-width="0.55" >400</text>
<line x1="624.2" y1="1772.5" x2="624.2" y2="1781.7" stroke="#000" stroke-width="2.2" />
<text transform="translate(602.37,1817.7) scale(1.0650,1)" font-size="26.9" font-family='"Carlito", "Liberation Sans", sans-serif' font-weight="bold" stroke="#000" stroke-width="0.55" >600</text>
<line x1="756.4" y1="1772.5" x2="756.4" y2="1781.7" stroke="#000" stroke-width="2.2" />
<text transform="translate(734.57,1817.7) scale(1.0650,1)" font-size="26.9" font-family='"Carlito", "Liberation Sans", sans-serif' font-weight="bold" stroke="#000" stroke-width="0.55" >800</text>
<line x1="151.39" y1="1772.5" x2="624.4" y2="1469.1" stroke="#c00000" stroke-width="3.6" stroke-linecap="round" stroke-dasharray="0 9.6"/>
<circle cx="151.1" cy="1772.5" r="7.9" fill="#c00000"/>
<circle cx="228.2" cy="1722.8" r="7.9" fill="#c00000"/>
<circle cx="241.5" cy="1724.5" r="7.9" fill="#c00000"/>
<circle cx="247.6" cy="1716.5" r="7.9" fill="#c00000"/>
<circle cx="268" cy="1692.7" r="7.9" fill="#c00000"/>
<circle cx="327.1" cy="1654" r="7.9" fill="#c00000"/>
<circle cx="426.5" cy="1579.5" r="7.9" fill="#c00000"/>
<circle cx="624.4" cy="1474.7" r="7.9" fill="#c00000"/>
<circle cx="603.6" cy="1687.6" r="8.3" fill="#c00000"/>
<text transform="translate(628.26,1691.4) scale(1.0951,1)" font-size="29.5" font-family='"Carlito", "Liberation Sans", sans-serif' font-weight="bold" stroke="#000" stroke-width="0.55" >PersiXyn8</text>
<text transform="translate(350.45,1884) scale(1.1161,1)" font-size="28.6" font-family='"Carlito", "Liberation Sans", sans-serif' font-weight="bold" stroke="#000" stroke-width="0.55" >1/S (mM <tspan font-size="20" dy="-10">-1</tspan><tspan dy="10">)</tspan></text>
<text transform="translate(33.4,1693.92) rotate(-90) scale(1.0418,1)" font-size="30.4" font-family='"Carlito", "Liberation Sans", sans-serif' font-weight="bold" stroke="#000" stroke-width="0.55" >1/V (mL.U<tspan font-size="20.5" dy="-10">-1</tspan><tspan dy="10">)</tspan></text>
<text transform="translate(885.75,1355.5) scale(0.9577,1)" font-size="51.5" font-family='"Liberation Sans", Arial, sans-serif' font-weight="bold" >F</text>
<rect x="1064.82" y="1533.3" width="20" height="299.8" fill="url(#gF)" stroke="#000" stroke-opacity="0.12" stroke-width="1"/>
<rect x="1128.45" y="1564.81" width="20" height="268.29" fill="url(#gF)" stroke="#000" stroke-opacity="0.12" stroke-width="1"/>
<rect x="1192.08" y="1541.1" width="20" height="292" fill="url(#gF)" stroke="#000" stroke-opacity="0.12" stroke-width="1"/>
<rect x="1255.72" y="1513.79" width="20" height="319.31" fill="url(#gF)" stroke="#000" stroke-opacity="0.12" stroke-width="1"/>
<rect x="1319.35" y="1362.24" width="20" height="470.86" fill="url(#gF)" stroke="#000" stroke-opacity="0.12" stroke-width="1"/>
<rect x="1382.98" y="1701.66" width="20" height="131.44" fill="url(#gF)" stroke="#000" stroke-opacity="0.12" stroke-width="1"/>
<rect x="1446.62" y="1573.51" width="20" height="259.59" fill="url(#gF)" stroke="#000" stroke-opacity="0.12" stroke-width="1"/>
<rect x="1510.25" y="1629.93" width="20" height="203.17" fill="url(#gF)" stroke="#000" stroke-opacity="0.12" stroke-width="1"/>
<rect x="1573.88" y="1777.88" width="20" height="55.22" fill="url(#gF)" stroke="#000" stroke-opacity="0.12" stroke-width="1"/>
<rect x="1637.52" y="1690.25" width="20" height="142.85" fill="url(#gF)" stroke="#000" stroke-opacity="0.12" stroke-width="1"/>
<rect x="1701.15" y="1376.65" width="20" height="456.45" fill="url(#gF)" stroke="#000" stroke-opacity="0.12" stroke-width="1"/>
<rect x="1764.78" y="1580.42" width="20" height="252.68" fill="url(#gF)" stroke="#000" stroke-opacity="0.12" stroke-width="1"/>
<rect x="1828.42" y="1585.82" width="20" height="247.28" fill="url(#gF)" stroke="#000" stroke-opacity="0.12" stroke-width="1"/>
<rect x="1892.05" y="1558.51" width="20" height="274.59" fill="url(#gF)" stroke="#000" stroke-opacity="0.12" stroke-width="1"/>
<rect x="1955.68" y="1552.51" width="20" height="280.59" fill="url(#gF)" stroke="#000" stroke-opacity="0.12" stroke-width="1"/>
<path d="M1074.82,1529.3V1537.5M1067.82,1529.3H1081.82M1067.82,1537.5H1081.82" stroke="#000" stroke-width="2.2" fill="none"/>
<path d="M1138.45,1557.4V1572.3M1131.45,1557.4H1145.45M1131.45,1572.3H1145.45" stroke="#000" stroke-width="2.2" fill="none"/>
<path d="M1202.08,1531.8V1550.4M1195.08,1531.8H1209.08M1195.08,1550.4H1209.08" stroke="#000" stroke-width="2.2" fill="none"/>
<path d="M1265.72,1507.7V1520.1M1258.72,1507.7H1272.72M1258.72,1520.1H1272.72" stroke="#000" stroke-width="2.2" fill="none"/>
<path d="M1329.35,1355.4V1369.8M1322.35,1355.4H1336.35M1322.35,1369.8H1336.35" stroke="#000" stroke-width="2.2" fill="none"/>
<path d="M1392.98,1692V1710.7M1385.98,1692H1399.98M1385.98,1710.7H1399.98" stroke="#000" stroke-width="2.2" fill="none"/>
<path d="M1456.62,1561.1V1585.5M1449.62,1561.1H1463.62M1449.62,1585.5H1463.62" stroke="#000" stroke-width="2.2" fill="none"/>
<path d="M1520.25,1619.4V1640.3M1513.25,1619.4H1527.25M1513.25,1640.3H1527.25" stroke="#000" stroke-width="2.2" fill="none"/>
<path d="M1583.88,1764.6V1790.7M1576.88,1764.6H1590.88M1576.88,1790.7H1590.88" stroke="#000" stroke-width="2.2" fill="none"/>
<path d="M1647.52,1672.8V1706.5M1640.52,1672.8H1654.52M1640.52,1706.5H1654.52" stroke="#000" stroke-width="2.2" fill="none"/>
<path d="M1711.15,1370.8V1381.9M1704.15,1370.8H1718.15M1704.15,1381.9H1718.15" stroke="#000" stroke-width="2.2" fill="none"/>
<path d="M1774.78,1570.6V1590.4M1767.78,1570.6H1781.78M1767.78,1590.4H1781.78" stroke="#000" stroke-width="2.2" fill="none"/>
<path d="M1838.42,1573.5V1596.7M1831.42,1573.5H1845.42M1831.42,1596.7H1845.42" stroke="#000" stroke-width="2.2" fill="none"/>
<path d="M1902.05,1551.5V1564.8M1895.05,1551.5H1909.05M1895.05,1564.8H1909.05" stroke="#000" stroke-width="2.2" fill="none"/>
<path d="M1965.68,1538.7V1566M1958.68,1538.7H1972.68M1958.68,1566H1972.68" stroke="#000" stroke-width="2.2" fill="none"/>
<line x1="1043" y1="1352.9" x2="1043" y2="1834.1" stroke="#000" stroke-width="2.4" />
<line x1="1034.2" y1="1833.1" x2="1998.5" y2="1833.1" stroke="#000" stroke-width="2.4" />
<line x1="1034.2" y1="1833.1" x2="1043" y2="1833.1" stroke="#000" stroke-width="2.2" />
<text transform="translate(1001.49,1847.1) scale(1.0800,1)" font-size="26.5" font-family='"Carlito", "Liberation Sans", sans-serif' font-weight="bold" stroke="#000" stroke-width="0.55" >0</text>
<line x1="1034.2" y1="1773.08" x2="1043" y2="1773.08" stroke="#000" stroke-width="2.2" />
<text transform="translate(987.18,1787.08) scale(1.0800,1)" font-size="26.5" font-family='"Carlito", "Liberation Sans", sans-serif' font-weight="bold" stroke="#000" stroke-width="0.55" >20</text>
<line x1="1034.2" y1="1713.06" x2="1043" y2="1713.06" stroke="#000" stroke-width="2.2" />
<text transform="translate(987.18,1727.06) scale(1.0800,1)" font-size="26.5" font-family='"Carlito", "Liberation Sans", sans-serif' font-weight="bold" stroke="#000" stroke-width="0.55" >40</text>
<line x1="1034.2" y1="1653.04" x2="1043" y2="1653.04" stroke="#000" stroke-width="2.2" />
<text transform="translate(987.18,1667.04) scale(1.0800,1)" font-size="26.5" font-family='"Carlito", "Liberation Sans", sans-serif' font-weight="bold" stroke="#000" stroke-width="0.55" >60</text>
<line x1="1034.2" y1="1593.02" x2="1043" y2="1593.02" stroke="#000" stroke-width="2.2" />
<text transform="translate(987.18,1607.02) scale(1.0800,1)" font-size="26.5" font-family='"Carlito", "Liberation Sans", sans-serif' font-weight="bold" stroke="#000" stroke-width="0.55" >80</text>
<line x1="1034.2" y1="1533" x2="1043" y2="1533" stroke="#000" stroke-width="2.2" />
<text transform="translate(972.6,1547) scale(1.0800,1)" font-size="26.5" font-family='"Carlito", "Liberation Sans", sans-serif' font-weight="bold" stroke="#000" stroke-width="0.55" >100</text>
<line x1="1034.2" y1="1472.98" x2="1043" y2="1472.98" stroke="#000" stroke-width="2.2" />
<text transform="translate(972.6,1486.98) scale(1.0800,1)" font-size="26.5" font-family='"Carlito", "Liberation Sans", sans-serif' font-weight="bold" stroke="#000" stroke-width="0.55" >120</text>
<line x1="1034.2" y1="1412.96" x2="1043" y2="1412.96" stroke="#000" stroke-width="2.2" />
<text transform="translate(972.6,1426.96) scale(1.0800,1)" font-size="26.5" font-family='"Carlito", "Liberation Sans", sans-serif' font-weight="bold" stroke="#000" stroke-width="0.55" >140</text>
<line x1="1034.2" y1="1352.94" x2="1043" y2="1352.94" stroke="#000" stroke-width="2.2" />
<text transform="translate(972.6,1366.94) scale(1.0800,1)" font-size="26.5" font-family='"Carlito", "Liberation Sans", sans-serif' font-weight="bold" stroke="#000" stroke-width="0.55" >160</text>
<line x1="1043" y1="1833.1" x2="1043" y2="1842.5" stroke="#000" stroke-width="2.2" />
<line x1="1106.63" y1="1833.1" x2="1106.63" y2="1842.5" stroke="#000" stroke-width="2.2" />
<line x1="1170.27" y1="1833.1" x2="1170.27" y2="1842.5" stroke="#000" stroke-width="2.2" />
<line x1="1233.9" y1="1833.1" x2="1233.9" y2="1842.5" stroke="#000" stroke-width="2.2" />
<line x1="1297.53" y1="1833.1" x2="1297.53" y2="1842.5" stroke="#000" stroke-width="2.2" />
<line x1="1361.17" y1="1833.1" x2="1361.17" y2="1842.5" stroke="#000" stroke-width="2.2" />
<line x1="1424.8" y1="1833.1" x2="1424.8" y2="1842.5" stroke="#000" stroke-width="2.2" />
<line x1="1488.43" y1="1833.1" x2="1488.43" y2="1842.5" stroke="#000" stroke-width="2.2" />
<line x1="1552.07" y1="1833.1" x2="1552.07" y2="1842.5" stroke="#000" stroke-width="2.2" />
<line x1="1615.7" y1="1833.1" x2="1615.7" y2="1842.5" stroke="#000" stroke-width="2.2" />
<line x1="1679.33" y1="1833.1" x2="1679.33" y2="1842.5" stroke="#000" stroke-width="2.2" />
<line x1="1742.97" y1="1833.1" x2="1742.97" y2="1842.5" stroke="#000" stroke-width="2.2" />
<line x1="1806.6" y1="1833.1" x2="1806.6" y2="1842.5" stroke="#000" stroke-width="2.2" />
<line x1="1870.23" y1="1833.1" x2="1870.23" y2="1842.5" stroke="#000" stroke-width="2.2" />
<line x1="1933.87" y1="1833.1" x2="1933.87" y2="1842.5" stroke="#000" stroke-width="2.2" />
<line x1="1997.5" y1="1833.1" x2="1997.5" y2="1842.5" stroke="#000" stroke-width="2.2" />
<text transform="translate(1087.82,1871.5) rotate(-45) scale(1.0000,1)" text-anchor="end" font-size="28" font-family='"Carlito", "Liberation Sans", sans-serif' font-weight="bold" stroke="#000" stroke-width="0.55" >Control</text>
<text transform="translate(1151.45,1871.5) rotate(-45) scale(1.0000,1)" text-anchor="end" font-size="28" font-family='"Carlito", "Liberation Sans", sans-serif' font-weight="bold" stroke="#000" stroke-width="0.55" >Na+</text>
<text transform="translate(1215.08,1871.5) rotate(-45) scale(1.0000,1)" text-anchor="end" font-size="28" font-family='"Carlito", "Liberation Sans", sans-serif' font-weight="bold" stroke="#000" stroke-width="0.55" >Mg2+</text>
<text transform="translate(1278.72,1871.5) rotate(-45) scale(1.0000,1)" text-anchor="end" font-size="28" font-family='"Carlito", "Liberation Sans", sans-serif' font-weight="bold" stroke="#000" stroke-width="0.55" >Ca2+</text>
<text transform="translate(1342.35,1871.5) rotate(-45) scale(1.0000,1)" text-anchor="end" font-size="28" font-family='"Carlito", "Liberation Sans", sans-serif' font-weight="bold" stroke="#000" stroke-width="0.55" >Mn2+</text>
<text transform="translate(1405.98,1871.5) rotate(-45) scale(1.0000,1)" text-anchor="end" font-size="28" font-family='"Carlito", "Liberation Sans", sans-serif' font-weight="bold" stroke="#000" stroke-width="0.55" >Cu2+</text>
<text transform="translate(1469.62,1871.5) rotate(-45) scale(1.0000,1)" text-anchor="end" font-size="28" font-family='"Carlito", "Liberation Sans", sans-serif' font-weight="bold" stroke="#000" stroke-width="0.55" >Fe2+</text>
<text transform="translate(1533.25,1871.5) rotate(-45) scale(1.0000,1)" text-anchor="end" font-size="28" font-family='"Carlito", "Liberation Sans", sans-serif' font-weight="bold" stroke="#000" stroke-width="0.55" >Zn2+</text>
<text transform="translate(1596.88,1871.5) rotate(-45) scale(1.0000,1)" text-anchor="end" font-size="28" font-family='"Carlito", "Liberation Sans", sans-serif' font-weight="bold" stroke="#000" stroke-width="0.55" >SDS</text>
<text transform="translate(1660.52,1871.5) rotate(-45) scale(1.0000,1)" text-anchor="end" font-size="28" font-family='"Carlito", "Liberation Sans", sans-serif' font-weight="bold" stroke="#000" stroke-width="0.55" >CTAB</text>
<text transform="translate(1724.15,1871.5) rotate(-45) scale(1.0000,1)" text-anchor="end" font-size="28" font-family='"Carlito", "Liberation Sans", sans-serif' font-weight="bold" stroke="#000" stroke-width="0.55" >Tween 20</text>
<text transform="translate(1787.78,1871.5) rotate(-45) scale(1.0000,1)" text-anchor="end" font-size="28" font-family='"Carlito", "Liberation Sans", sans-serif' font-weight="bold" stroke="#000" stroke-width="0.55" >EDTA</text>
<text transform="translate(1851.42,1871.5) rotate(-45) scale(1.0000,1)" text-anchor="end" font-size="28" font-family='"Carlito", "Liberation Sans", sans-serif' font-weight="bold" stroke="#000" stroke-width="0.55" >Urea</text>
<text transform="translate(1915.05,1871.5) rotate(-45) scale(1.0000,1)" text-anchor="end" font-size="28" font-family='"Carlito", "Liberation Sans", sans-serif' font-weight="bold" stroke="#000" stroke-width="0.55" >PMSF</text>
<text transform="translate(1978.68,1871.5) rotate(-45) scale(1.0000,1)" text-anchor="end" font-size="28" font-family='"Carlito", "Liberation Sans", sans-serif' font-weight="bold" stroke="#000" stroke-width="0.55" >NaN3</text>
<text transform="translate(1358.71,1983) scale(1.1415,1)" font-size="30" font-family='"Carlito", "Liberation Sans", sans-serif' font-weight="bold" stroke="#000" stroke-width="0.55" >Chemicals</text>
<text transform="translate(913,1697.1) rotate(-90) scale(1.0692,1)" font-size="32.2" font-family='"Carlito", "Liberation Sans", sans-serif' font-weight="bold" stroke="#000" stroke-width="0.55" >Relative activity (%)</text>
</svg>
</body></html>
